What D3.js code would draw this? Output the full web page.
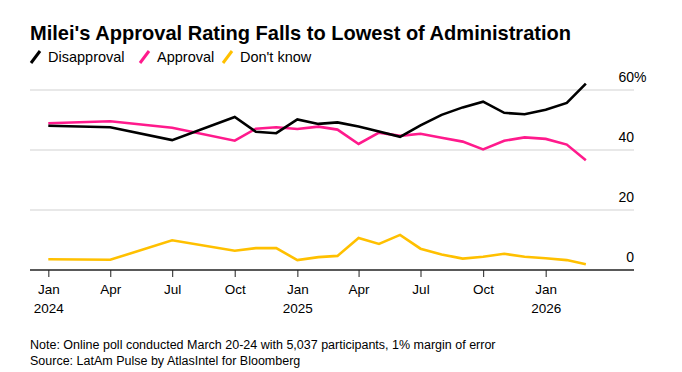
<!DOCTYPE html>
<html><head><meta charset="utf-8">
<script src="https://cdn.jsdelivr.net/npm/d3@7"></script>
<style>
body{margin:0;background:#fff;}
svg{display:block;font-family:"Liberation Sans",Arial,sans-serif;}
</style></head>
<body><svg id="c" width="682" height="372"></svg>
<script>
const months = ["2024-01","2024-04","2024-07","2024-10","2024-11","2024-12","2025-01","2025-02","2025-03","2025-04","2025-05","2025-06","2025-07","2025-08","2025-09","2025-10","2025-11","2025-12","2026-01","2026-02","2026-03"];
const disapproval = [48.1,47.6,43.3,51.0,46.1,45.6,50.2,48.7,49.2,47.8,46.2,44.4,48.2,51.7,54.2,56.1,52.4,51.9,53.4,55.7,62.1];
const approval    = [48.9,49.6,47.4,43.1,47.1,47.6,47.0,47.8,46.8,42.0,45.8,44.7,45.4,44.1,42.8,40.2,43.1,44.2,43.7,41.8,36.6];
const dontKnow    = [3.6,3.4,9.9,6.4,7.3,7.3,3.3,4.3,4.7,10.7,8.7,11.7,7.1,5.2,3.8,4.4,5.4,4.4,3.9,3.3,1.9];
const seriesNames = ["Disapproval","Approval","Don't know"];
const seriesColors = ["#000000","#ff1a8c","#ffc000"];
const yTicks = [0,20,40,60];
const xTickDates = ["2024-01","2024-04","2024-07","2024-10","2025-01","2025-04","2025-07","2025-10","2026-01"];
const monthNames = ["Jan","Feb","Mar","Apr","May","Jun","Jul","Aug","Sep","Oct","Nov","Dec"];
const title = "Milei's Approval Rating Falls to Lowest of Administration";
const note = "Note: Online poll conducted March 20-24 with 5,037 participants, 1% margin of error";
const source = "Source: LatAm Pulse by AtlasIntel for Bloomberg";

const parse = s => { const [y,m] = s.split("-").map(Number); return new Date(y, m-1, 1); };
const dates = months.map(parse);
const svg = d3.select("#c");
const left = 30, right = 634;

const x = d3.scaleTime().domain([new Date(2024,0,1), new Date(2026,0,1)]).range([48.3, 545.7]);
const y = d3.scaleLinear().domain([0,60]).range([270,90]);

// Title
svg.append("text").attr("x",30).attr("y",40).attr("font-size",20.5).attr("font-weight","bold")
  .attr("textLength",541).attr("lengthAdjust","spacingAndGlyphs").attr("fill","#000").text(title);

// Legend
const legX = [30, 139, 222];
seriesNames.forEach((n,i)=>{
  const g = svg.append("g").attr("transform",`translate(${legX[i]},57)`);
  g.append("line").attr("x1",1).attr("y1",6).attr("x2",10).attr("y2",-6)
    .attr("stroke",seriesColors[i]).attr("stroke-width",3);
  g.append("text").attr("x",18).attr("y",5).attr("font-size",14.5).attr("fill","#000").text(n);
});

// Grid
yTicks.filter(v=>v>0).forEach(v=>{
  svg.append("line").attr("x1",left).attr("x2",right).attr("y1",y(v)).attr("y2",y(v))
    .attr("stroke","#e1e1e1").attr("stroke-width",1.5);
});
yTicks.forEach(v=>{
  svg.append("text").attr("x",right).attr("y",y(v)-8).attr("text-anchor","end")
    .attr("font-size",14).attr("fill","#000").text(v);
  if (v===60) svg.append("text").attr("x",right).attr("y",y(v)-8).attr("font-size",14).attr("fill","#000").text("%");
});

// X axis
const xAxis = d3.axisBottom(x).tickValues(xTickDates.map(parse)).tickSize(7).tickSizeOuter(0)
  .tickFormat(d=>monthNames[d.getMonth()]);
const ax = svg.append("g").attr("transform","translate(0,270)").call(xAxis);
ax.select(".domain").remove();
ax.selectAll(".tick line").attr("stroke","#444").attr("stroke-width",1.2);
ax.selectAll(".tick text").attr("font-size",13.5).attr("fill","#000").attr("font-family","Liberation Sans, Arial, sans-serif")
  .attr("y",14).attr("dy","0.71em")
  .each(function(d){
    if (d.getMonth()===0){
      d3.select(this).append("tspan").attr("x",0).attr("dy","1.45em").text(d.getFullYear());
    }
  });
svg.append("line").attr("x1",left).attr("x2",right).attr("y1",y(0)).attr("y2",y(0))
  .attr("stroke","#222").attr("stroke-width",1.5);

// Lines
const line = d3.line().x((d,i)=>x(dates[i])).y(d=>y(d));
[dontKnow, approval, disapproval].forEach((s,k)=>{
  const idx = 2-k;
  svg.append("path").attr("d",line(s)).attr("fill","none").attr("stroke",seriesColors[idx])
    .attr("stroke-width",2.6).attr("stroke-linejoin","miter").attr("stroke-linecap","butt");
});

// Notes
svg.append("text").attr("x",30).attr("y",349).attr("font-size",12.5).attr("fill","#000").text(note);
svg.append("text").attr("x",30).attr("y",365).attr("font-size",12.5).attr("fill","#000").text(source);
</script></body></html>
